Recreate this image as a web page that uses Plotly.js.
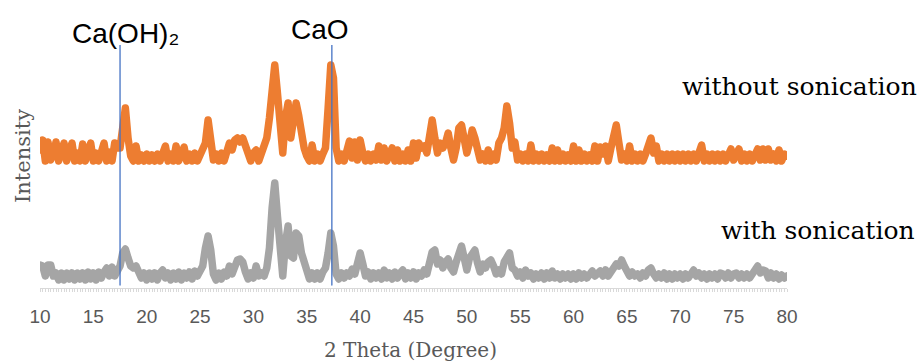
<!DOCTYPE html>
<html>
<head>
<meta charset="utf-8">
<script src="https://cdn.plot.ly/plotly-3.0.1.min.js"></script>
<style>
html,body{margin:0;padding:0;background:#fff;}
#chart{width:917px;height:364px;}
#chart .js-line{stroke-linejoin:round !important;stroke-linecap:round !important;}
</style>
</head>
<body>
<div id="chart"></div>
<script>
// 2-theta scan grid: 10 to 80 degrees, 0.25 degree step
const thetaStart = 10, thetaEnd = 80, thetaStep = 0.25;
const twoTheta = [];
for (let t = thetaStart; t <= thetaEnd + 1e-9; t += thetaStep) twoTheta.push(+t.toFixed(2));

// Intensity (arbitrary, offset) without sonication — one row per degree (x.00, x.25, x.50, x.75)
const withoutSonication = [
  138,148,127,146, // 10
  128,134,146,127, // 11
  136,145,127,134, // 12
  145,127,135,127, // 13
  144,127,134,145, // 14
  127,135,127,136, // 15
  145,127,136,127, // 16
  145,140,140,160, // 17
  180,150,132,127, // 18
  142,127,133,127, // 19
  134,127,133,127, // 20
  134,127,135,142, // 21
  127,134,127,142, // 22
  127,134,141,127, // 23
  134,127,135,127, // 24
  134,142,145,168, // 25
  150,128,134,127, // 26
  135,127,136,145, // 27
  138,148,150,146, // 28
  150,140,132,127, // 29
  135,138,127,134, // 30
  140,150,170,205, // 31
  223,195,150,135, // 32
  170,185,150,170, // 33
  185,172,152,140, // 34
  132,127,143,127, // 35
  134,127,134,140, // 36
  180,223,210,140, // 37
  127,134,127,136, // 38
  147,130,146,128, // 39
  148,135,127,134, // 40
  127,134,128,142, // 41
  128,140,127,134, // 42
  140,127,138,127, // 43
  134,127,138,127, // 44
  145,130,145,140, // 45
  142,135,150,168, // 46
  150,135,145,140, // 47
  145,155,140,128, // 48
  140,160,163,150, // 49
  135,145,158,150, // 50
  140,128,134,127, // 51
  138,127,134,128, // 52
  145,150,160,182, // 53
  165,140,146,128, // 54
  134,127,134,127, // 55
  143,127,134,127, // 56
  134,127,133,127, // 57
  140,127,138,127, // 58
  134,127,133,127, // 59
  142,127,138,127, // 60
  134,127,133,127, // 61
  142,127,141,134, // 62
  142,127,140,150, // 63
  163,145,128,134, // 64
  127,142,127,134, // 65
  127,134,127,134, // 66
  140,150,135,142, // 67
  127,134,127,134, // 68
  127,134,127,134, // 69
  127,134,127,134, // 70
  127,134,127,134, // 71
  143,127,134,127, // 72
  134,127,134,127, // 73
  134,127,134,139, // 74
  128,134,139,127, // 75
  134,127,134,127, // 76
  134,139,128,139, // 77
  128,139,128,134, // 78
  127,138,127,134, // 79
  132              // 80
];

// Intensity (arbitrary) with sonication
const withSonication = [
  23,22,12,23, // 10
  23,12,15,8,  // 11
  15,8,15,9,   // 12
  15,8,15,9,   // 13
  15,8,16,9,   // 14
  15,8,16,10,  // 15
  16,20,12,21, // 16
  12,18,22,35, // 17
  39,30,22,20, // 18
  22,16,10,15, // 19
  8,15,9,15,   // 20
  8,15,18,10,  // 21
  15,8,15,9,   // 22
  16,8,15,10,  // 23
  16,9,17,12,  // 24
  16,22,40,52, // 25
  38,14,8,15,  // 26
  9,16,12,22,  // 27
  14,22,28,29, // 28
  26,16,9,15,  // 29
  10,22,12,15, // 30
  12,20,40,80, // 31
  105,72,40,12,// 32
  45,62,32,30, // 33
  55,52,35,26, // 34
  16,9,15,9,   // 35
  15,9,16,20,  // 36
  35,55,42,14, // 37
  9,15,10,15,  // 38
  12,19,14,28, // 39
  35,24,12,16, // 40
  9,15,10,15,  // 41
  9,18,10,15,  // 42
  9,16,10,15,  // 43
  18,9,15,10,  // 44
  16,9,15,12,  // 45
  18,14,26,36, // 46
  38,24,28,20, // 47
  26,29,20,16, // 48
  26,35,42,30, // 49
  18,30,36,38, // 50
  25,16,24,20, // 51
  26,28,22,14, // 52
  18,14,26,33, // 53
  35,20,18,12, // 54
  16,10,18,12, // 55
  15,9,14,10,  // 56
  15,9,15,10,  // 57
  17,10,14,9,  // 58
  14,10,14,9,  // 59
  14,9,15,10,  // 60
  14,10,15,17, // 61
  12,15,17,12, // 62
  18,12,17,20, // 63
  24,22,28,22, // 64
  18,12,16,12, // 65
  14,10,15,12, // 66
  18,20,14,10, // 67
  14,10,15,9,  // 68
  14,9,14,10,  // 69
  14,9,14,10,  // 70
  14,18,12,15, // 71
  10,14,9,14,  // 72
  10,14,9,15,  // 73
  14,10,15,10, // 74
  14,15,10,14, // 75
  10,14,10,15, // 76
  20,22,15,18, // 77
  17,10,15,10, // 78
  14,9,13,10,  // 79
  12           // 80
];

// Reference phase positions (2-theta) and their labels
const phasePositions = [17.5, 37.35];
const phaseLabels = ["Ca(OH)\u2082", "CaO"];
const seriesLabels = ["without sonication", "with sonication"];
const xTickValues = [10,15,20,25,30,35,40,45,50,55,60,65,70,75,80];

// Layout geometry (pixels)
const W = 917, H = 364, ML = 40, MR = 130, MT = 45, MB = 76;
const PW = W - ML - MR, PH = H - MT - MB;
const px = x => (x - ML) / PW;          // pixel x -> paper
const py = y => (H - MB - y) / PH;      // pixel y -> paper
const yTop = 243, yLineBottom = 3;

const traces = [
  {x: twoTheta, y: withSonication, type: 'scatter', mode: 'lines', name: seriesLabels[1],
   line: {color: '#A5A5A5', width: 7.5}, hoverinfo: 'skip'},
  {x: twoTheta, y: withoutSonication, type: 'scatter', mode: 'lines', name: seriesLabels[0],
   line: {color: '#ED7D31', width: 7.5}, hoverinfo: 'skip'}
];
phasePositions.forEach((p, i) => {
  traces.push({x: [p, p], y: [yLineBottom, yTop + 5], type: 'scatter', mode: 'lines', name: phaseLabels[i],
    line: {color: '#4472C4', width: 1.3}, hoverinfo: 'skip'});
});

const serif = 'DejaVu Serif, serif';
const sans = 'Liberation Sans, Arial, sans-serif';

const annotations = [
  {text: phaseLabels[0], x: px(125), y: py(33), font: {family: sans, size: 28, color: '#000'}},
  {text: phaseLabels[1], x: px(320), y: py(29), font: {family: sans, size: 28, color: '#000'}},
  {text: seriesLabels[0], x: px(799), y: py(86), font: {family: serif, size: 25, color: '#000'}},
  {text: seriesLabels[1], x: px(818), y: py(230), font: {family: serif, size: 25, color: '#000'}},
  {text: '2 Theta (Degree)', x: px(410), y: py(350), font: {family: serif, size: 20, color: '#595959'}},
  {text: 'Intensity', x: px(23), y: py(156), textangle: -90, font: {family: serif, size: 21, color: '#595959'}}
].map(a => Object.assign({xref: 'paper', yref: 'paper', showarrow: false, xanchor: 'center', yanchor: 'middle'}, a));

const layout = {
  width: W, height: H,
  margin: {l: ML, r: MR, t: MT, b: MB, pad: 0},
  paper_bgcolor: '#fff', plot_bgcolor: '#fff',
  showlegend: false,
  xaxis: {
    range: [thetaStart, thetaEnd], showgrid: false, zeroline: false,
    showline: true, linecolor: '#d9d9d9', linewidth: 1,
    tickmode: 'array', tickvals: xTickValues, ticks: 'outside', ticklen: 3, tickcolor: '#d9d9d9',
    minor: {ticks: 'outside', ticklen: 3, tickcolor: '#d9d9d9', dtick: thetaStep, tick0: thetaStart},
    tickfont: {family: sans, size: 19, color: '#595959'}, ticklabelstandoff: 8
  },
  yaxis: {range: [0, yTop], visible: false, showgrid: false, zeroline: false, fixedrange: true},
  annotations: annotations
};

Plotly.newPlot('chart', traces, layout, {staticPlot: true, displayModeBar: false}).then(gd => {
  gd.querySelectorAll('.js-line').forEach(p => {
    p.style.strokeLinejoin = 'round';
    p.style.strokeLinecap = 'round';
  });
});
</script>
</body>
</html>
